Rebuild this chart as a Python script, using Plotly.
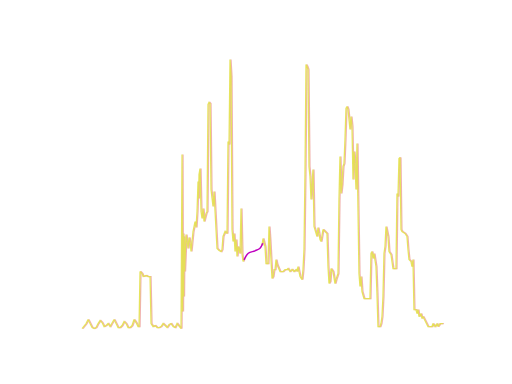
import plotly.graph_objects as go

# Sample times (hours) and measured values of the observed series (None = data gap)
hours = [
    0, 2, 4, 6, 8, 10, 12, 14, 16, 18,
    20, 22, 24, 26, 28, 30, 32, 34, 36, 38,
    40, 42, 44, 46, 48, 50, 52, 54, 56, 57,
    58, 60, 61, 64, 66, 68, 69, 71, 73, 75,
    77, 79, 81, 83, 85, 87, 89, 91, 93, 95,
    97, 99, 100, 100.5, 101, 101.5, 102, 102.5, 103, 104,
    105, 106, 107, 108, 109, 110, 111, 113, 114, 115,
    116, 116.5, 117, 118, 119, 120, 121, 122, 123, 124,
    125, 126, 127, 128, 129, 130, 131, 132, 133, 134,
    135, 137, 139, 140, 141, 143, 145, 146, 147, 148,
    149, 150, 151, 152, 153, 154, 155, 156, 158, 159,
    160, 161, 162,
    None,
    180, 181, 183, 184, 186, 187, 188, 189, 190, 191,
    192, 193, 194, 195, 197, 198, 201, 203, 205, 206,
    208, 210, 212, 214, 215, 216, 218, 220, 221, 222,
    223, 224, 225, 226, 227, 228, 229, 230, 231, 232,
    233, 234, 235, 236, 237, 238, 239, 240, 241, 243,
    245, 246, 247, 248, 249, 251, 252, 253, 254, 255,
    256, 257, 258, 259, 260, 261, 262, 263, 264, 265,
    266, 267, 268, 269, 270, 271, 272, 273, 274, 275,
    276, 277, 278, 279, 280, 281, 282, 288, 289, 290,
    291, 292, 293, 294, 295, 296, 298, 299, 300, 301,
    302, 303, 304, 305, 306, 307, 309, 311, 314, 315,
    316, 317, 318, 319, 320, 323, 325, 326, 327, 329,
    330, 331, 332, 334, 335, 336, 337, 339, 340, 341,
    343, 345, 346, 350, 351, 353, 355, 356, 358, 361,
]

observed = [
    3, 5, 8, 12, 7, 4, 3, 4, 8, 11,
    9, 5, 6, 8, 5, 9, 12, 8, 4, 4,
    6, 10, 8, 4, 4, 6, 12, 9, 5, 5,
    60, 58, 55, 56, 55, 55, 8, 5, 6, 4,
    4, 5, 8, 6, 4, 7, 8, 5, 4, 8,
    5, 3, 177, 20, 98, 35, 95, 60, 80, 97,
    90, 83, 94, 90, 80, 92, 100, 110, 104, 120,
    150, 133, 157, 163, 120, 113, 123, 110, 116, 118,
    120, 227, 229, 228, 142, 135, 125, 140, 118, 95,
    83, 81, 80, 82, 95, 100, 98, 190, 187, 272,
    255, 102, 90, 98, 80, 92, 75, 85, 78, 123,
    78, 70, 73,
    None,
    86, 93, 85, 68, 68, 105, 90, 75, 53, 55,
    62, 62, 72, 67, 62, 60, 60, 62, 62, 63,
    60, 62, 60, 62, 60, 65, 55, 52, 62, 82,
    158, 267, 265, 262, 165, 155, 132, 145, 162, 105,
    102, 100, 95, 104, 95, 92, 90, 95, 102, 100,
    98, 65, 48, 50, 63, 60, 52, 48, 52, 55,
    58, 132, 175, 138, 147, 165, 168, 192, 223, 225,
    222, 212, 202, 215, 205, 152, 180, 168, 142, 188,
    108, 58, 45, 55, 40, 35, 33, 33, 78, 80,
    73, 78, 72, 65, 38, 5, 5, 8, 15, 35,
    78, 85, 105, 98, 95, 80, 77, 63, 63, 138,
    135, 173, 174, 102, 100, 98, 95, 82, 72, 70,
    65, 72, 22, 22, 18, 22, 15, 18, 13, 15,
    11, 8, 5, 5, 8, 5, 8, 5, 8, 8,
]

# Reference series is the observed series reported one hour later
lag_hours = 1

# Imputed values filling the gap between the two observed stretches
gap_hours = [162, 166.3, 173, 178, 180.7]
imputed = [71.7, 78.3, 80.7, 83.3, 88.3]

lagged = [None if h is None else h + lag_hours for h in hours]

fig = go.Figure()
fig.add_trace(go.Scatter(x=lagged, y=observed, mode="lines", connectgaps=False,
                         line=dict(color="rgba(236,160,155,0.8)", width=1.3), hoverinfo="skip"))
fig.add_trace(go.Scatter(x=hours, y=observed, mode="lines", connectgaps=False,
                         line=dict(color="rgba(228,226,80,0.92)", width=1.3), hoverinfo="skip"))
fig.add_trace(go.Scatter(x=gap_hours, y=imputed, mode="lines",
                         line=dict(color="#bf00bf", width=1.5, shape="spline"), hoverinfo="skip"))

xs = [h for h in hours if h is not None] + gap_hours
ys = [v for v in observed if v is not None] + imputed
xpad = 0.05 * (max(xs) - min(xs))
ypad = 0.05 * (max(ys) - min(ys))

fig.update_layout(
    width=512, height=384,
    margin=dict(l=64, r=51, t=46, b=42),
    paper_bgcolor="white", plot_bgcolor="white",
    showlegend=False,
    xaxis=dict(visible=False, range=[min(xs) - xpad, max(xs) + xpad]),
    yaxis=dict(visible=False, range=[min(ys) - ypad, max(ys) + ypad]),
)
fig.write_html("out.html")
